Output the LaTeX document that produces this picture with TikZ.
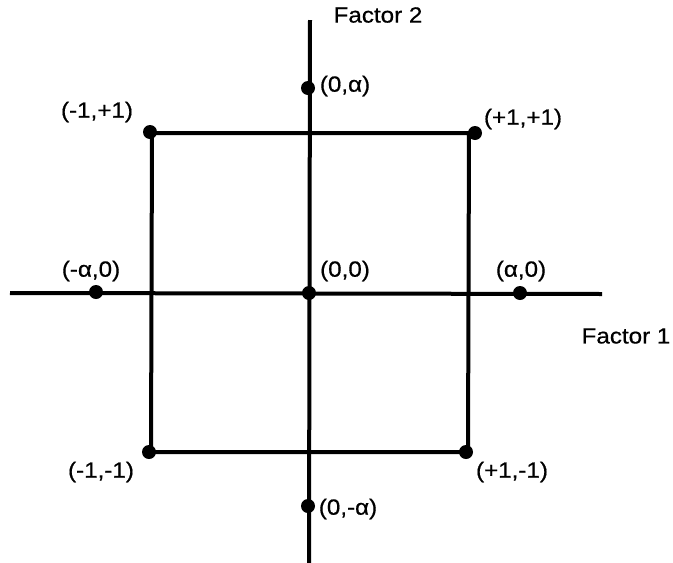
\documentclass[tikz,border=0pt]{standalone}
\usepackage{fontspec}
\setmainfont{Liberation Sans}
\newfontfamily\labfont[FakeStretch=1.1,FakeBold=0.6]{Liberation Sans}
\begin{document}
\begin{tikzpicture}[x=1pt,y=-1pt,
  axis/.style={line width=4pt},
  sqedge/.style={line width=4pt},
  dot/.style={circle,fill=black,inner sep=0pt,minimum size=14pt},
  lab/.style={font=\labfont\fontsize{22}{26}\selectfont,inner sep=0pt}]
\useasboundingbox (0,0) rectangle (673,563);
% axes
\coordinate (vt) at (310,20);
\coordinate (vb) at (309,565);
\coordinate (hl) at (10,293);
\coordinate (hr) at (602,294);
\draw[axis] (vt) -- (vb);
\draw[axis] (hl) -- (hr);
% square
\coordinate (c1) at (152,133);
\coordinate (c2) at (469,133);
\coordinate (c3) at (468,452);
\coordinate (c4) at (151,452);
\draw[sqedge,line join=miter] (c1) -- (c2) -- (c3) -- (c4) -- cycle;
% points
\node[dot] (tl) at (150,132) {};
\node[dot] (tr) at (475,133) {};
\node[dot] (br) at (466,452) {};
\node[dot] (bl) at (149,452) {};
\node[dot] (pa) at (308,88) {};
\node[dot] (ma) at (308,506) {};
\node[dot] (la) at (96,292) {};
\node[dot] (ra) at (520,293) {};
\node[dot] (cc) at (309,293) {};
% labels
\node[lab] (f2) at (378,15) {Factor 2};
\node[lab] (f1) at (626,336) {Factor 1};
\node[lab] (lpa) at (345,86) {(0,α)};
\node[lab] (ltl) at (97,112) {(-1,+1)};
\node[lab] (ltr) at (523,119) {(+1,+1)};
\node[lab] (lla) at (91,271) {(-α,0)};
\node[lab] (lcc) at (345,271) {(0,0)};
\node[lab] (lra) at (521,271) {(α,0)};
\node[lab] (lbl) at (101,472) {(-1,-1)};
\node[lab] (lbr) at (512,472) {(+1,-1)};
\node[lab] (lma) at (348,509) {(0,-α)};
\end{tikzpicture}
\end{document}
